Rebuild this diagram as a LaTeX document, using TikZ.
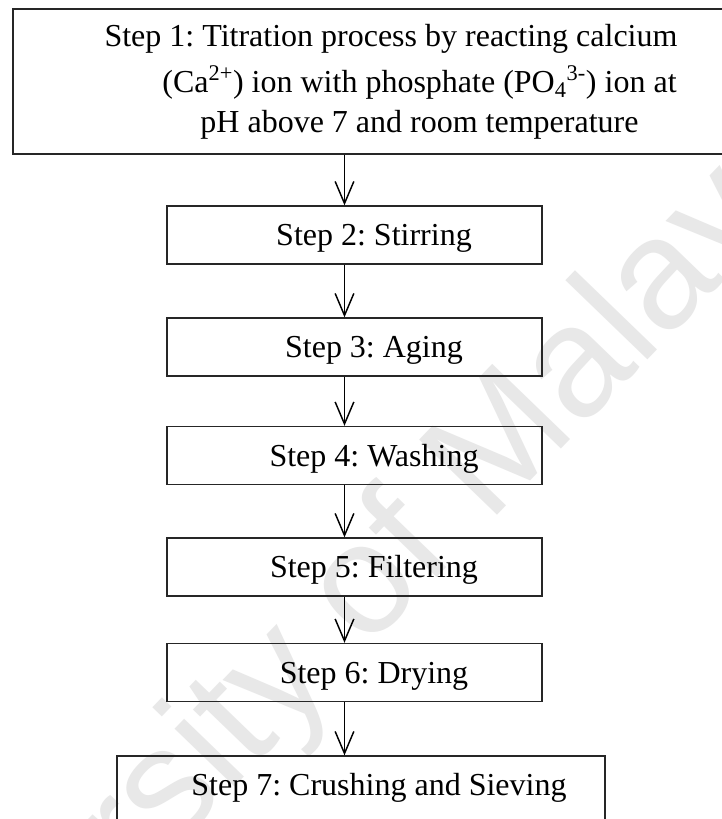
\documentclass[tikz,border=0pt]{standalone}
\usepackage{fontspec}
\setmainfont{Liberation Serif}
\newfontfamily\wmfont{Liberation Sans}
\usetikzlibrary{arrows.meta}
\frenchspacing
\begin{document}
\begin{tikzpicture}[x=0.75pt,y=-0.75pt,
  stepbox/.style={draw=black!85, line width=1pt, inner sep=0pt,
    font=\fontsize{24pt}{30pt}\selectfont\frenchspacing, text height=18pt, text depth=2.25pt},
  smallbox/.style={stepbox, minimum width=281.25pt, minimum height=43.5pt},
  flowarrow/.style={line width=1.1pt, -{Straight Barb[length=16.5pt,width=14pt,line width=1.1pt]}},
  watermark/.style={text=black!9, font=\wmfont\fontsize{118pt}{118pt}\selectfont, rotate=46, anchor=base, inner sep=0pt}
]
\useasboundingbox (0,0) rectangle (722,819);
\clip (0,0) rectangle (722,819);
\fill[white] (0,0) rectangle (722,819);

\node[watermark] (wm) at (349,669) {University of Malaya};

\node[draw=black!85, line width=1pt, inner sep=0pt, minimum width=609.75pt, minimum height=108.75pt,
  align=center, font=\fontsize{24pt}{30pt}\selectfont\frenchspacing] (s1) at (419.5,81.5)
  {Step 1: Titration process by reacting calcium\hbox to 42.75pt{}\\[4.5pt]
   (Ca\textsuperscript{2+}) ion with phosphate (PO\textsubscript{4}\textsuperscript{3-}) ion at\\
   pH above 7 and room temperature};

\node[smallbox] (s2) at (354.5,235) {\hbox to 29.25pt{}Step 2: Stirring};
\node[smallbox] (s3) at (354.5,347) {\hbox to 29.25pt{}Step 3: Aging};
\node[smallbox] (s4) at (354.5,455.5) {\hbox to 29.25pt{}Step 4: Washing};
\node[smallbox] (s5) at (354.5,567) {\hbox to 29.25pt{}Step 5: Filtering};
\node[smallbox] (s6) at (354.5,672.5) {\hbox to 29.25pt{}Step 6: Drying};
\node[stepbox, minimum width=366pt, minimum height=63pt, text depth=22.5pt] (s7) at (361,798)
  {\hbox to 27pt{}Step 7: Crushing and Sieving};

\coordinate (ax) at (344.5,0);
\draw[flowarrow] (s1.south -| ax) -- (s2.north -| ax);
\draw[flowarrow] (s2.south -| ax) -- (s3.north -| ax);
\draw[flowarrow] (s3.south -| ax) -- (s4.north -| ax);
\draw[flowarrow] (s4.south -| ax) -- (s5.north -| ax);
\draw[flowarrow] (s5.south -| ax) -- (s6.north -| ax);
\draw[flowarrow] (s6.south -| ax) -- (s7.north -| ax);
\end{tikzpicture}
\end{document}
